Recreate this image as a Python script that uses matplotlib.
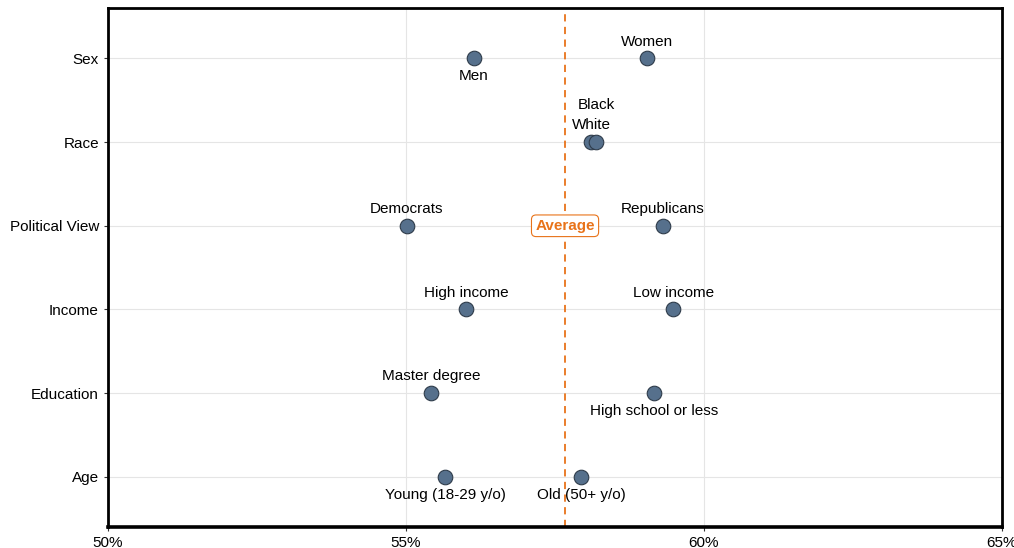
import matplotlib.pyplot as plt

plt.rcParams['font.family'] = ['Liberation Sans', 'DejaVu Sans']

categories = ["Age", "Education", "Income", "Political View", "Race", "Sex"]

# each group: category, label, value (%), label position
groups = ["Men", "Women", "White", "Black", "Democrats", "Republicans",
          "High income", "Low income", "Master degree", "High school or less",
          "Young (18-29 y/o)", "Old (50+ y/o)"]
group_cat = ["Sex", "Sex", "Race", "Race", "Political View", "Political View",
             "Income", "Income", "Education", "Education", "Age", "Age"]
values = [56.14, 59.05, 58.11, 58.19, 55.01, 59.31,
          56.01, 59.49, 55.42, 59.16, 55.66, 57.94]
label_dy = [-13, 12, 12, 27, 12, 12, 12, 12, 12, -13, -13, -13]
average = 57.67

orange = "#E8731A"
dot = "#56708C"

fig = plt.figure(figsize=(10.14, 5.48), dpi=100)
ax = fig.add_axes([0.1065, 0.0383, 0.8815, 0.9467])

ypos = {c: i + 1 for i, c in enumerate(categories)}
ys = [ypos[c] for c in group_cat]

for v in [55, 60]:
    ax.axvline(v, color="#E5E5E5", lw=0.8, zorder=0)
for y in ypos.values():
    ax.axhline(y, color="#E5E5E5", lw=0.8, zorder=0)

ax.axvline(average, color=orange, lw=1.3, ls=(0, (4, 3)), zorder=1)

ax.scatter(values, ys, s=110, color=dot, edgecolor="#2E3B4A", linewidth=0.8, zorder=3)

for g, v, y, dy in zip(groups, values, ys, label_dy):
    ax.annotate(g, (v, y), xytext=(0, dy), textcoords="offset points",
                ha="center", va="center", fontsize=11, color="black", zorder=4)

ax.text(average, ypos["Political View"], "Average", ha="center", va="center",
        fontsize=11, fontweight="bold", color=orange, zorder=5,
        bbox=dict(boxstyle="round,pad=0.25,rounding_size=0.3", fc="white", ec=orange, lw=0.8))

ax.set_xlim(50, 65)
ax.set_ylim(0.4, 6.6)
ax.set_xticks([50, 55, 60, 65])
ax.set_xticklabels(["50%", "55%", "60%", "65%"])
ax.set_yticks(list(ypos.values()))
ax.set_yticklabels(categories)
ax.tick_params(axis="both", labelsize=11, length=3, width=0.8, color="#333333")

for s in ax.spines.values():
    s.set_linewidth(2)
    s.set_color("black")
ax.spines["bottom"].set_linewidth(2.6)

fig.savefig("out.png", dpi=100)
